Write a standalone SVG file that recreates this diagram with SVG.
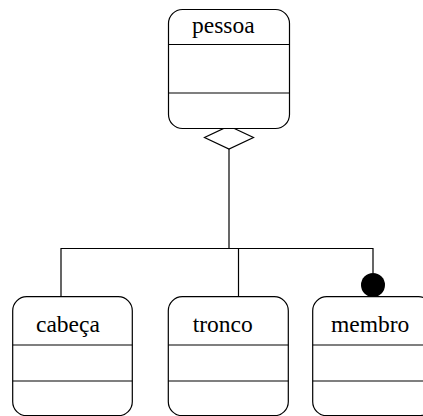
<svg xmlns="http://www.w3.org/2000/svg" width="423" height="416" viewBox="0 0 423 416">
  <style>
    .box { fill: #fff; stroke: #000; stroke-width: 1.2; }
    .div { stroke: #000; stroke-width: 1.2; }
    .lbl { font-family: "Liberation Serif", "Times New Roman", serif; font-size: 23.5px; fill: #000; }
    .wire { fill: none; stroke: #000; stroke-width: 1.2; }
  </style>
  <rect width="423" height="416" fill="#fff"/>

  <!-- connectors: aggregation tree from pessoa to its parts -->
  <g id="connectors">
    <polyline class="wire" points="229,149 229,248.5"/>
    <polyline class="wire" points="61,296.5 61,248.5 373,248.5 373,273"/>
    <line class="wire" x1="238.5" y1="248.5" x2="238.5" y2="296.5"/>
    <!-- hollow aggregation diamond at the whole -->
    <polygon points="229,126 253.5,137.5 229,149 204.5,137.5" fill="#fff" stroke="#000" stroke-width="1.2"/>
    <!-- filled dot marking multiplicity on membro -->
    <circle cx="373" cy="285" r="12" fill="#000"/>
  </g>

  <g id="pessoa">
    <rect class="box" x="168.5" y="9.5" width="121" height="119" rx="14"/>
    <line class="div" x1="168.5" y1="44.5" x2="289.5" y2="44.5"/>
    <line class="div" x1="168.5" y1="93" x2="289.5" y2="93"/>
    <text class="lbl" x="192" y="33">pessoa</text>
  </g>

  <g id="cabeca">
    <rect class="box" x="12.7" y="296.7" width="119.6" height="119" rx="14"/>
    <line class="div" x1="12.7" y1="345" x2="132.3" y2="345"/>
    <line class="div" x1="12.7" y1="381" x2="132.3" y2="381"/>
    <text class="lbl" x="36" y="331.5">cabeça</text>
  </g>

  <g id="tronco">
    <rect class="box" x="168.3" y="296.7" width="120" height="119" rx="14"/>
    <line class="div" x1="168.3" y1="345" x2="288.3" y2="345"/>
    <line class="div" x1="168.3" y1="381" x2="288.3" y2="381"/>
    <text class="lbl" x="192.7" y="331.5">tronco</text>
  </g>

  <g id="membro">
    <rect class="box" x="312.7" y="296.7" width="120" height="119" rx="14"/>
    <line class="div" x1="312.7" y1="345" x2="432.7" y2="345"/>
    <line class="div" x1="312.7" y1="381" x2="432.7" y2="381"/>
    <text class="lbl" x="331" y="331.5">membro</text>
  </g>
</svg>
